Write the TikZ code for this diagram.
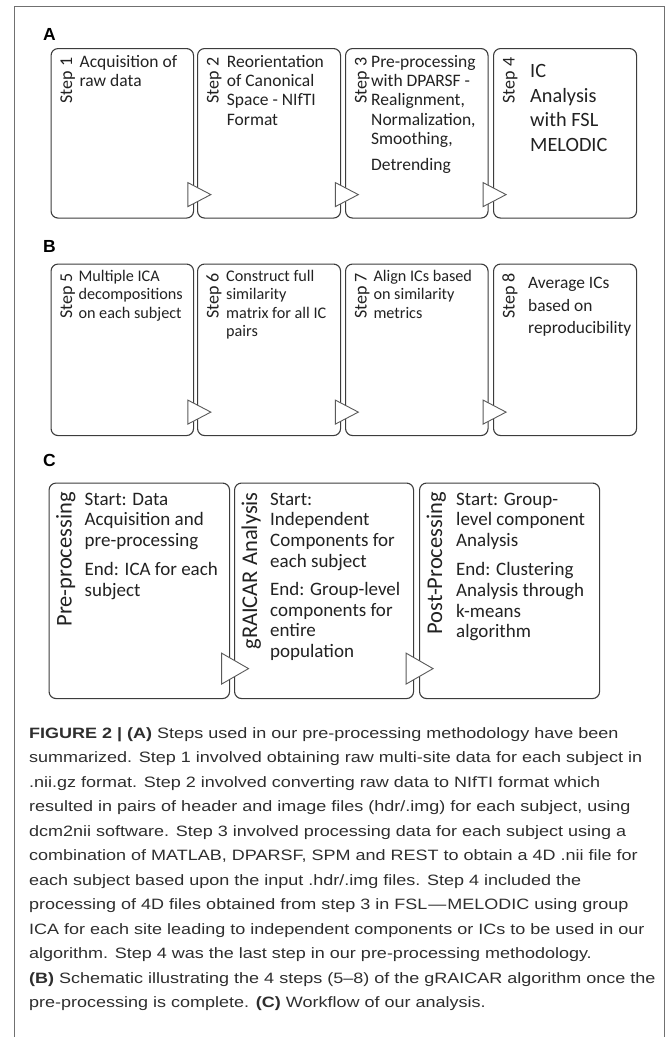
\documentclass[tikz,border=0pt]{standalone}
\usepackage{fontspec}
\setmainfont{Carlito}
\newfontfamily\capfont{Liberation Sans}[FakeStretch=1.2]
\newfontfamily\panelfont{Liberation Sans}
\usetikzlibrary{calc}
% stacked lines whose baseline is the first line's baseline
\newcommand\boxlines[1]{\begin{tabular}[t]{@{}l@{}}#1\end{tabular}}
\definecolor{boxgray}{HTML}{3C3C3C}
\definecolor{trigray}{HTML}{5A5A5A}
\definecolor{framegray}{HTML}{707070}
\definecolor{inkgray}{HTML}{222222}
\definecolor{capgray}{HTML}{2E2E2E}
\begin{document}
\begin{tikzpicture}[x=1pt,y=-1pt,
  stepbox/.style={draw=boxgray, line width=1.1pt, rounded corners=7pt, anchor=north west, inner sep=0pt, fill=white},
  steplabel/.style={rotate=90, anchor=base east, inner sep=0pt, text=inkgray, font=\fontsize{18}{20}\selectfont},
  phaselabel/.style={rotate=90, anchor=base east, inner sep=0pt, text=inkgray, font=\fontsize{22.5}{24}\selectfont},
  bodyA/.style={anchor=base west, inner sep=0pt, text=inkgray, font=\fontsize{17.5}{19.3}\selectfont},
  bodyB/.style={anchor=base west, inner sep=0pt, text=inkgray, font=\fontsize{16.2}{18.2}\selectfont},
  bodyC/.style={anchor=base west, inner sep=0pt, text=inkgray, font=\fontsize{19}{20.7}\selectfont},
  panel/.style={anchor=base west, inner sep=0pt, font=\panelfont\bfseries\fontsize{17.5}{20}\selectfont},
  tri/.style={draw=trigray, fill=white, line width=0.9pt, line join=miter},
  frame/.style={draw=framegray, line width=1pt}]
\useasboundingbox (0,0) rectangle (669,1037);

% outer frame, open at the bottom
\draw[frame] (14,1038) -- (14,6) -- (664.5,6) -- (664.5,1038);

% ---------- panel A ----------
\node[panel] (lA) at (43,40.7) {A};
\node[stepbox, minimum width=142.5pt, minimum height=169.5pt] (a1) at (50.5,48) {};
\node[stepbox, minimum width=143pt, minimum height=169.5pt] (a2) at (197,48) {};
\node[stepbox, minimum width=142.5pt, minimum height=169.5pt] (a3) at (345,48) {};
\node[stepbox, minimum width=143pt, minimum height=169.5pt] (a4) at (493,48) {};

\node[steplabel] (a1s) at ($(a1.north west)+(21.5,9.5)$) {Step 1};
\node[steplabel] (a2s) at ($(a2.north west)+(21.5,9.5)$) {Step 2};
\node[steplabel] (a3s) at ($(a3.north west)+(21.5,9.5)$) {Step 3};
\node[steplabel] (a4s) at ($(a4.north west)+(21.5,9.5)$) {Step 4};

\node[bodyA] (a1t) at ($(a1.north west)+(29,19.2)$) {\boxlines{Acquisition of\\raw data}};
\node[bodyA] (a2t) at ($(a2.north west)+(29.7,19.2)$) {\boxlines{Reorientation\\of Canonical\\Space - NIfTI\\Format}};
\node[bodyA] (a3t) at ($(a3.north west)+(26,19.2)$) {\boxlines{Pre-processing\\with DPARSF -\\Realignment,\\Normalization,\\Smoothing,\\[7pt]Detrending}};
\node[bodyA, font=\fontsize{20.3}{24.5}\selectfont] (a4t) at ($(a4.north west)+(37,29.5)$) {\boxlines{IC\\Analysis\\with FSL\\MELODIC}};

% ---------- panel B ----------
\node[panel] (lB) at (43,252.7) {B};
\node[stepbox, minimum width=142.5pt, minimum height=171.5pt] (b5) at (50.5,263.5) {};
\node[stepbox, minimum width=143pt, minimum height=171.5pt] (b6) at (197,263.5) {};
\node[stepbox, minimum width=142.5pt, minimum height=171.5pt] (b7) at (345,263.5) {};
\node[stepbox, minimum width=143pt, minimum height=171.5pt] (b8) at (493,263.5) {};

\node[steplabel] (b5s) at ($(b5.north west)+(21.5,9.5)$) {Step 5};
\node[steplabel] (b6s) at ($(b6.north west)+(21.5,9.5)$) {Step 6};
\node[steplabel] (b7s) at ($(b7.north west)+(21.5,9.5)$) {Step 7};
\node[steplabel] (b8s) at ($(b8.north west)+(21.5,9.5)$) {Step 8};

\node[bodyB] (b5t) at ($(b5.north west)+(27.8,18.2)$) {\boxlines{Multiple ICA\\decompositions\\on each subject}};
\node[bodyB] (b6t) at ($(b6.north west)+(29,18.2)$) {\boxlines{Construct full\\similarity\\matrix for all IC\\pairs}};
\node[bodyB] (b7t) at ($(b7.north west)+(28.3,18.2)$) {\boxlines{Align ICs based\\on similarity\\metrics}};
\node[bodyB, font=\fontsize{17.4}{22.8}\selectfont] (b8t) at ($(b8.north west)+(35,24.7)$) {\boxlines{Average ICs\\based on\\reproducibility}};

% ---------- panel C ----------
\node[panel] (lC) at (43,466.7) {C};
\node[stepbox, minimum width=180.5pt, minimum height=215.5pt] (c1) at (48.5,482.5) {};
\node[stepbox, minimum width=179pt, minimum height=215.5pt] (c2) at (234,482.5) {};
\node[stepbox, minimum width=180pt, minimum height=215.5pt] (c3) at (419,482.5) {};

\node[phaselabel] (c1s) at ($(c1.north west)+(23,9.5)$) {Pre-processing};
\node[phaselabel] (c2s) at ($(c2.north west)+(23,9.5)$) {gRAICAR Analysis};
\node[phaselabel] (c3s) at ($(c3.north west)+(23,9.5)$) {Post-Processing};

\node[bodyC] (c1t) at ($(c1.north west)+(36,22.5)$) {\boxlines{Start: Data\\Acquisition and\\pre-processing\\[8.4pt]End: ICA for each\\subject}};
\node[bodyC] (c2t) at ($(c2.north west)+(36,22.5)$) {\boxlines{Start:\\Independent\\Components for\\each subject\\[7.6pt]End: Group-level\\components for\\entire\\population}};
\node[bodyC] (c3t) at ($(c3.north west)+(37,22.5)$) {\boxlines{Start: Group-\\level component\\Analysis\\[8.6pt]End: Clustering\\Analysis through\\k-means\\algorithm}};

% ---------- flow triangles between neighbouring boxes ----------
\foreach \u/\v in {a1/a2,a2/a3,a3/a4,b5/b6,b6/b7,b7/b8}{
  \draw[tri] ($(\u.south east)!0.5!(\v.south west)+(-7.7,-36)$) -- ++(0,24) -- ++(23,-12) -- cycle;
}
\foreach \u/\v in {c1/c2,c2/c3}{
  \draw[tri] ($(\u.south east)!0.5!(\v.south west)+(-10.5,-46)$) -- ++(0,31) -- ++(27,-15.5) -- cycle;
}

% ---------- caption ----------
\node[anchor=base west, inner sep=0pt, text=capgray, font=\capfont\fontsize{15}{24.5}\selectfont] (cap) at (29,738) {\boxlines{%
{\bfseries FIGURE 2 | (A)} Steps used in our pre-processing methodology have been\\
summarized. Step 1 involved obtaining raw multi-site data for each subject in\\
.nii.gz format. Step 2 involved converting raw data to NIfTI format which\\
resulted in pairs of header and image files (hdr/.img) for each subject, using\\
dcm2nii software. Step 3 involved processing data for each subject using a\\
combination of MATLAB, DPARSF, SPM and REST to obtain a 4D .nii file for\\
each subject based upon the input .hdr/.img files. Step 4 included the\\
processing of 4D files obtained from step 3 in FSL\kern1pt—\kern1pt MELODIC using group\\
ICA for each site leading to independent components or ICs to be used in our\\
algorithm. Step 4 was the last step in our pre-processing methodology.\\
{\bfseries (B)} Schematic illustrating the 4 steps (5–8) of the gRAICAR algorithm once the\\
pre-processing is complete. {\bfseries (C)} Workflow of our analysis.}};
\end{tikzpicture}
\end{document}
